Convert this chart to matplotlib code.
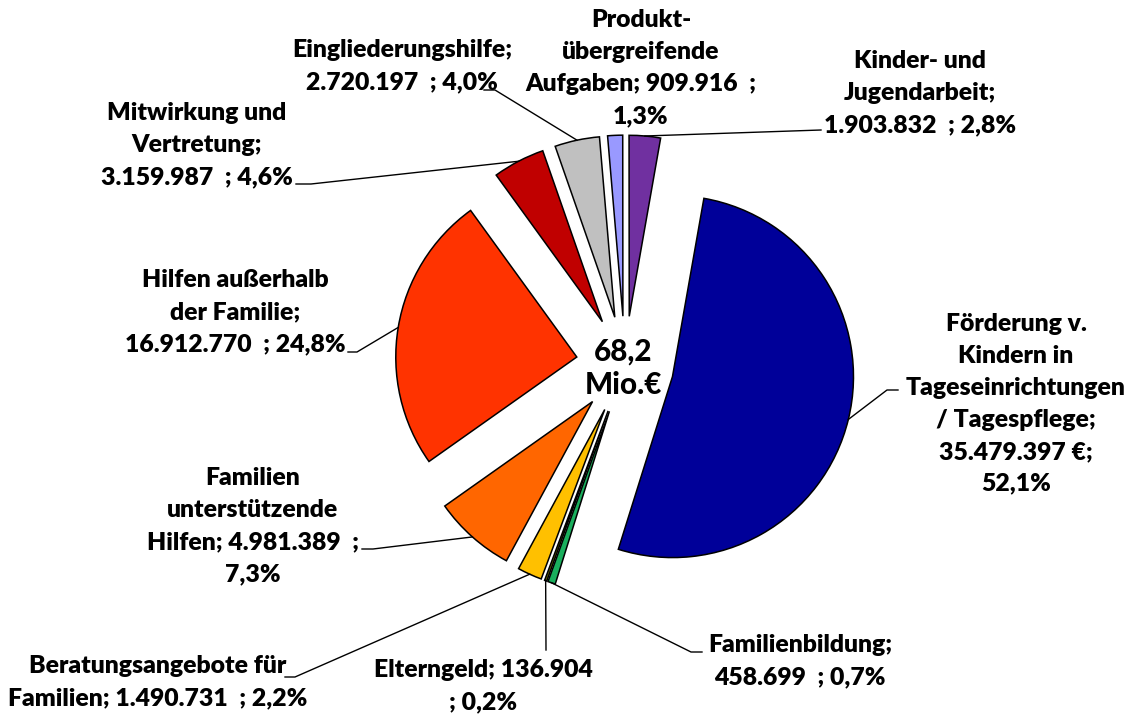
import matplotlib
matplotlib.use("Agg")
import matplotlib.pyplot as plt
import numpy as np

# ---------------- data ----------------
categories = [
    "Förderung v. Kindern in Tageseinrichtungen / Tagespflege",
    "Familienbildung",
    "Elterngeld",
    "Beratungsangebote für Familien",
    "Familien unterstützende Hilfen",
    "Hilfen außerhalb der Familie",
    "Mitwirkung und Vertretung",
    "Eingliederungshilfe",
    "Produktübergreifende Aufgaben",
    "Kinder- und Jugendarbeit",
]
values = [35479397, 458699, 136904, 1490731, 4981389,
          16912770, 3159987, 2720197, 909916, 1903832]
label_texts = [
    "Förderung v.\nKindern in\nTageseinrichtungen\n/ Tagespflege;\n35.479.397 €;\n52,1%",
    "Familienbildung;\n458.699  ; 0,7%",
    "Elterngeld; 136.904\n; 0,2%",
    "Beratungsangebote für\nFamilien; 1.490.731  ; 2,2%",
    "Familien\nunterstützende\nHilfen; 4.981.389  ;\n7,3%",
    "Hilfen außerhalb\nder Familie;\n16.912.770  ; 24,8%",
    "Mitwirkung und\nVertretung;\n3.159.987  ; 4,6%",
    "Eingliederungshilfe;\n2.720.197  ; 4,0%",
    "Produkt-\nübergreifende\nAufgaben; 909.916  ;\n1,3%",
    "Kinder- und\nJugendarbeit;\n1.903.832  ; 2,8%",
]
total_text = "68,2\nMio.€"

# ---------------- styles / layout ----------------
colors = ["#000099", "#1AAF5D", "#6B6B00", "#FFC000", "#FF6600",
          "#FF3300", "#C00000", "#C0C0C0", "#9999FF", "#7030A0"]
W, H = 1132, 715
R = 181
CENTER = (625, 365)
label_pos = [(1016, 404), (800, 661), (483, 686), (158, 682), (253, 526),
             (235, 312), (197, 145), (402, 66), (641, 68), (920, 93)]
leader_pts = [
    [(887, 390), (898, 390)],
    [(691, 652), (702, 652)],
    [(546, 650)],
    [(295, 677), (285, 677)],
    [(373, 549), (362, 549)],
    [(357, 352), (348, 352)],
    [(311, 184), (296, 184)],
    [(495, 90), (484, 90)],
    None,
    [(821, 130)],
]

fig = plt.figure(figsize=(W / 100, H / 100), dpi=100)
ax = fig.add_axes([0, 0, 1, 1])
wedges, _ = ax.pie(values, colors=colors, radius=R, center=CENTER,
                   startangle=-80, counterclock=True,
                   explode=[0.27 * R] * len(values),
                   wedgeprops=dict(edgecolor="black", linewidth=1.1),
                   frame=True)
ax.set_xlim(0, W)
ax.set_ylim(H, 0)
ax.set_aspect("auto")
ax.axis("off")

for w, txt, pos, pts in zip(wedges, label_texts, label_pos, leader_pts):
    ax.text(pos[0], pos[1], txt, ha="center", va="center",
            multialignment="center", family="Lato", fontweight="heavy",
            fontsize=17.8, linespacing=1.55, color="black")
    if pts:
        tm = np.deg2rad((w.theta1 + w.theta2) / 2)
        sx = w.center[0] + w.r * np.cos(tm)
        sy = w.center[1] + w.r * np.sin(tm)
        xs = [sx] + [p[0] for p in pts]
        ys = [sy] + [p[1] for p in pts]
        ax.plot(xs, ys, color="black", lw=1.0, zorder=3)

ax.text(623, 368, total_text, ha="center", va="center",
        multialignment="center", family="Lato",
        fontweight="black", fontsize=21.3, linespacing=1.22,
        bbox=dict(facecolor="white", edgecolor="none", pad=1.5), zorder=6)

fig.savefig("out.png", dpi=100)
